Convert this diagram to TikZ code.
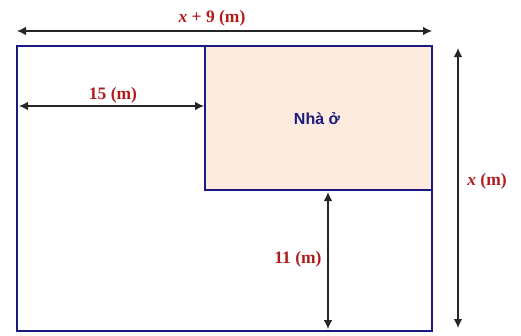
\documentclass[tikz,border=0pt]{standalone}
\usepackage{fontspec}
\setmainfont{Liberation Serif}
\newfontfamily\labsans{Liberation Sans}
\usetikzlibrary{arrows.meta}
\definecolor{lblred}{HTML}{B01C1C}
\definecolor{navy}{HTML}{1A1A80}
\definecolor{peach}{HTML}{FDEBDF}
\tikzset{
  dim/.style={draw=black!85, line width=1.2pt, {Latex[length=9pt,width=8.5pt]}-{Latex[length=9pt,width=8.5pt]}},
  lbl/.style={text=lblred, font=\fontsize{17.5}{19}\selectfont\bfseries, inner sep=0pt},
  box/.style={draw=navy, line width=2.2pt},
}
\begin{document}
\begin{tikzpicture}[x=1pt,y=-1pt]
\useasboundingbox (0,0) rectangle (521,335);
\draw[box] (17,46) rectangle (432,331);
\draw[box, fill=peach] (205,46) rectangle (432,190);
\node[text=navy, font=\labsans\fontsize{16}{18}\selectfont\bfseries] (house) at (317,119) {Nhà ở};
% anchors
\coordinate (tl) at (17,31);
\coordinate (tr) at (432,31);
\coordinate (rt) at (458,48);
\coordinate (rb) at (458,328);
\coordinate (ll) at (19,106);
\coordinate (lr) at (204,106);
\coordinate (vt) at (328,192);
\coordinate (vb) at (328,329);
\draw[dim] (tl) -- (tr);
\draw[dim] (rt) -- (rb);
\draw[dim] (ll) -- (lr);
\draw[dim] (vt) -- (vb);
\node[lbl] (top) at (212,18) {\textit{x} + 9 (m)};
\node[lbl] (right) at (487,181) {\textit{x} (m)};
\node[lbl] (fifteen) at (113,95) {15 (m)};
\node[lbl] (eleven) at (298,259) {11 (m)};
\end{tikzpicture}
\end{document}
